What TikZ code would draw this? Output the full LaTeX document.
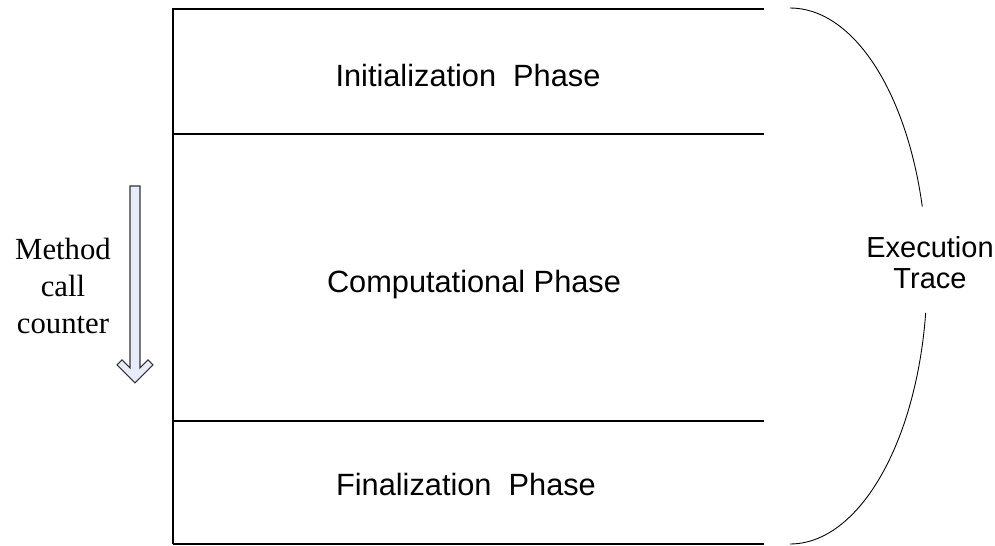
\documentclass[tikz,border=0pt]{standalone}
\usepackage{fontspec}
\setmainfont{Liberation Serif}
\setsansfont{Liberation Sans}
\usetikzlibrary{positioning}
\definecolor{ctFill}{RGB}{232,236,248}
\definecolor{ctEdge}{RGB}{50,50,60}

\begin{document}
\begin{tikzpicture}[
    x=0.02cm, y=-0.02cm,
    layer/.style={line width=1.1pt},
    trace/.style={line width=0.5pt},
    phase/.style={font=\sffamily\fontsize{17.5}{21}\selectfont, anchor=base, inner sep=0pt},
    trace note/.style={font=\sffamily\fontsize{16.5}{17.8}\selectfont, align=center, anchor=base, inner sep=0pt},
    side note/.style={font=\fontsize{17.5}{21.2}\selectfont, align=center, anchor=base, inner sep=0pt},
    counter arrow/.style={draw=ctEdge, fill=ctFill, line width=0.6pt, line join=miter}
]
  \useasboundingbox (0,0) rectangle (995,546);

  % stack of phases
  \coordinate (top) at (173,9);
  \coordinate (split1) at (173,134);
  \coordinate (split2) at (173,421);
  \coordinate (bottom) at (173,544);
  \draw[layer] (bottom) -- (top) -- ++(591,0);
  \draw[layer] (split1) -- ++(591,0);
  \draw[layer] (split2) -- ++(591,0);
  \draw[layer] (bottom) -- ++(591,0);

  \node[phase] (init) at (468,87) {Initialization~~Phase};
  \node[phase] (comp) at (474,293) {Computational Phase};
  \node[phase] (final) at (466,496) {Finalization~~Phase};

  % bracket round the whole trace
  \coordinate (trace start) at (790,8);
  \coordinate (trace gap1) at (922.3,206.6);
  \coordinate (trace gap2) at (925.7,312.8);
  \coordinate (trace end) at (790,544);
  \draw[trace] (trace start) .. controls (852,8) and (906,89) .. (trace gap1);
  \draw[trace] (trace gap2) .. controls (916,445) and (858,544) .. (trace end);
  \node[trace note] (exec) at (930,289) {Execution\\Trace};

  % method call counter
  \node[side note] (counter) at (63,334) {Method\\call\\counter};
  \draw[counter arrow] (130,186) -- (140,186) -- (140,368) -- (148,360) -- (153,365)
    -- (135,383) -- (117,365) -- (122,360) -- (130,368) -- cycle;
\end{tikzpicture}
\end{document}
